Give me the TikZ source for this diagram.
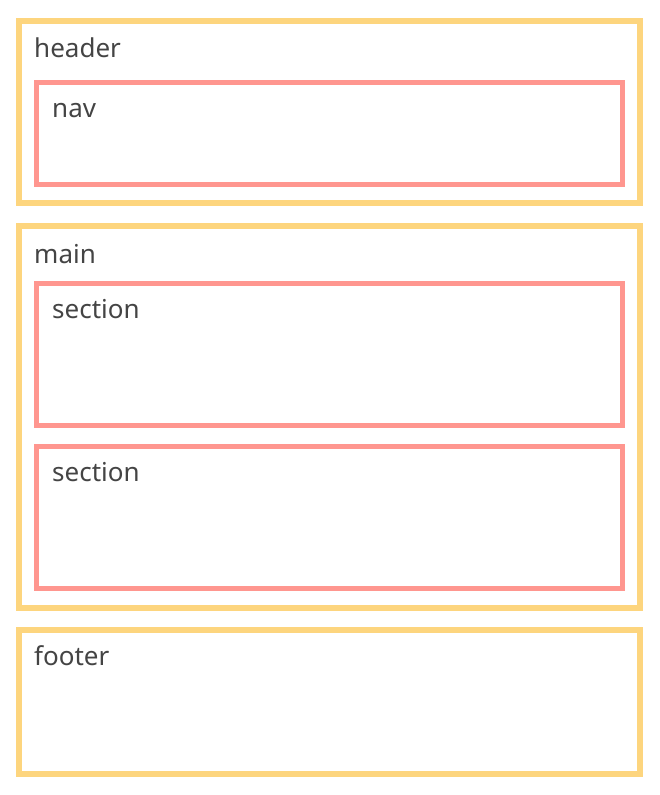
\documentclass[tikz,border=0pt]{standalone}
\usepackage{fontspec}
\setmainfont{Noto Sans}
\definecolor{outery}{HTML}{FDD57E}
\definecolor{innerp}{HTML}{FF968F}
\definecolor{txt}{HTML}{444444}
\begin{document}
\begin{tikzpicture}[x=1pt,y=-1pt,
  outerbox/.style={draw=outery,line width=6pt,rectangle,inner sep=0pt,outer sep=0pt},
  innerbox/.style={draw=innerp,line width=5pt,rectangle,inner sep=0pt,outer sep=0pt},
  lbl/.style={anchor=base west,inner sep=0pt,text=txt,font=\fontsize{26}{31}\selectfont}]
\useasboundingbox (0,0) rectangle (659,795);
\node[outerbox,minimum width=621pt,minimum height=182pt] (header) at (329.5,112) {};
\node[innerbox,minimum width=586pt,minimum height=102pt] (nav) at (329.5,133.5) {};
\node[outerbox,minimum width=621pt,minimum height=382pt] (main) at (329.5,417) {};
\node[innerbox,minimum width=586pt,minimum height=142pt] (sec1) at (329.5,354) {};
\node[innerbox,minimum width=586pt,minimum height=142pt] (sec2) at (329.5,517) {};
\node[outerbox,minimum width=621pt,minimum height=144pt] (footer) at (329.5,702) {};
\node[lbl] (theader) at (34,57) {header};
\node[lbl] (tnav) at (52,117) {nav};
\node[lbl] (tmain) at (34,263) {main};
\node[lbl] (tsec1) at (52,318) {section};
\node[lbl] (tsec2) at (52,481) {section};
\node[lbl] (tfooter) at (34,665) {footer};
\end{tikzpicture}
\end{document}
